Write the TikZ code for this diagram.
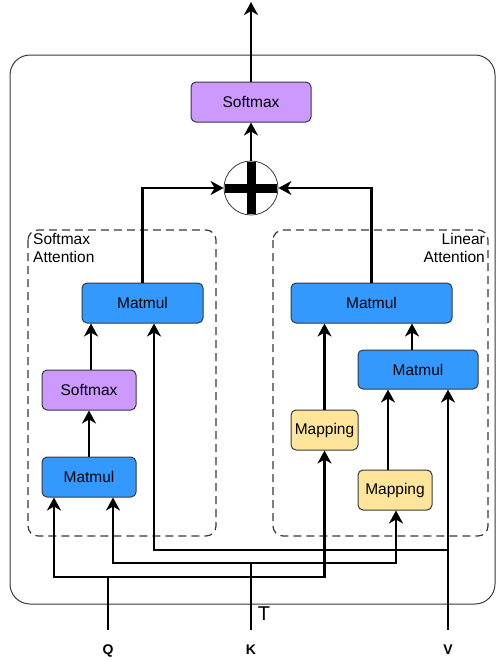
\documentclass[tikz,border=0pt]{standalone}
\usepackage{fontspec}
\setmainfont{Liberation Sans}
\usetikzlibrary{arrows.meta}

\definecolor{mmblue}{HTML}{3399FF}
\definecolor{smpurple}{HTML}{CC99FF}
\definecolor{mpyellow}{HTML}{FFE599}
\definecolor{edge}{HTML}{36393D}

\begin{document}
\begin{tikzpicture}[x=1pt, y=-1pt,
  blk/.style={draw=edge, line width=1pt, rounded corners=5pt, minimum height=40pt,
              font=\fontsize{15.5}{18}\selectfont, inner sep=0pt},
  mm/.style={blk, fill=mmblue},
  smx/.style={blk, fill=smpurple},
  mpg/.style={blk, fill=mpyellow},
  grp/.style={draw=edge, line width=1.2pt, dash pattern=on 8pt off 5pt, rounded corners=10pt},
  wire/.style={line width=2.6pt, black},
  arr/.style={wire, -{Stealth[length=13pt, width=14pt, inset=4pt]}},
  lbl/.style={font=\fontsize{15.5}{18}\selectfont, inner sep=0pt},
  inp/.style={font=\bfseries\fontsize{14}{16}\selectfont, inner sep=0pt,
              text height=10pt, text depth=0pt, anchor=north}
]
\useasboundingbox (0,0) rectangle (496,662);
% ---------------- frame and groups ----------------
\draw[edge, line width=1pt, rounded corners=20pt, fill=white] (10,55) rectangle (495,604);
\draw[grp] (28,230) rectangle (216,536);
\draw[grp] (273,230) rectangle (488,536);
\node[lbl, anchor=north west, align=left] (lsm) at (33,233) {Softmax\\Attention};
\node[lbl, anchor=north east, align=right] (llin) at (485,233) {Linear\\Attention};

% ---------------- blocks ----------------
\node[smx, minimum width=120pt] (smTop) at (251,102) {Softmax};
\node[circle, draw=edge, line width=0.8pt, fill=white, minimum size=54pt, inner sep=0pt] (sum) at (251,188) {};
\draw[line width=9pt] ([xshift=1.5pt]sum.west) -- ([xshift=-1.5pt]sum.east);
\draw[line width=9pt] ([yshift=-1.5pt]sum.north) -- ([yshift=1.5pt]sum.south);

\node[mm, minimum width=121pt] (mmL) at (142.5,303) {Matmul};
\node[smx, minimum width=94pt] (smL) at (89,390) {Softmax};
\node[mm, minimum width=94pt] (mmLow) at (89,477) {Matmul};

\node[mm, minimum width=161pt] (mmR) at (371.5,303) {Matmul};
\node[mm, minimum width=120pt, minimum height=39pt] (mm2) at (418,369.5) {Matmul};
\node[mpg, minimum width=67pt] (map1) at (324.5,430) {Mapping};
\node[mpg, minimum width=74pt] (map2) at (395,490) {Mapping};

% ---------------- inputs ----------------
\node[inp] (q) at (108,644) {Q};
\node[inp] (k) at (251,644) {K};
\node[inp] (v) at (448,644) {V};
\node[font=\fontsize{20}{24}\selectfont, inner sep=0pt] (kt) at (264,614) {T};
\coordinate (qj) at (108,577);
\coordinate (kj) at (251,563);
\coordinate (vj) at (448,550);
\coordinate (out) at (251,2);

\draw[wire] ([yshift=14pt]q.north) -- (qj);
\draw[arr] (qj) -| (54,0 |- mmLow.south);
\draw[arr] (qj) -| (map1.south);
\draw[wire] ([yshift=14pt]k.north) -- (kj);
\draw[arr] (kj) -| (113,0 |- mmLow.south);
\draw[arr] (kj) -| ([xshift=1pt]map2.south);
\draw[arr] ([yshift=14pt]v.north) -- (448,0 |- mm2.south);
\draw[arr] (vj) -| (154,0 |- mmL.south);

% ---------------- inner connectors ----------------
\draw[arr] (mmLow.north) -- (smL.south);
\draw[arr] ([xshift=2pt]smL.north) -- ([xshift=2pt]smL.north |- mmL.south);
\draw[arr] (map1.north) -- (map1.north |- mmR.south);
\draw[arr] ([xshift=-7pt]map2.north) -- ([xshift=-7pt]map2.north |- mm2.south);
\draw[arr] ([xshift=-6pt]mm2.north) -- ([xshift=-6pt]mm2.north |- mmR.south);
\draw[arr] (mmL.north) |- (sum.west);
\draw[arr] (mmR.north) |- (sum.east);
\draw[arr] (sum.north) -- (smTop.south);
\draw[arr] (smTop.north) -- (out);
\end{tikzpicture}
\end{document}
